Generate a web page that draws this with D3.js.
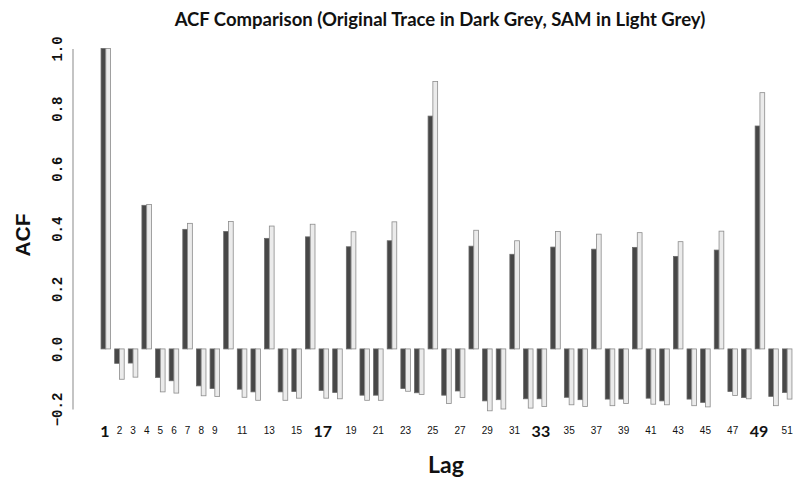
<!DOCTYPE html>
<html>
<head>
<meta charset="utf-8">
<script src="https://cdn.jsdelivr.net/npm/d3@7"></script>
<style>
  html, body { margin: 0; padding: 0; background: #fff; }
  svg { display: block; }
</style>
</head>
<body>
<svg id="chart" width="794" height="480"></svg>
<script>
// ---- data ----
const lags = d3.range(1, 52);
const originalACF = [
  1.0, -0.048, -0.047, 0.478, -0.095, -0.106, 0.398, -0.123, -0.132, 0.391,
  -0.134, -0.143, 0.368, -0.143, -0.142, 0.373, -0.138, -0.145, 0.340, -0.154,
  -0.154, 0.360, -0.132, -0.146, 0.775, -0.154, -0.140, 0.342, -0.173, -0.169,
  0.315, -0.166, -0.166, 0.339, -0.161, -0.169, 0.332, -0.167, -0.167, 0.338,
  -0.164, -0.173, 0.308, -0.167, -0.178, 0.329, -0.142, -0.162, 0.742, -0.158,
  -0.145
];
const samACF = [
  1.0, -0.101, -0.094, 0.481, -0.143, -0.147, 0.418, -0.156, -0.158, 0.424,
  -0.161, -0.171, 0.409, -0.171, -0.164, 0.415, -0.164, -0.166, 0.390, -0.171,
  -0.171, 0.423, -0.141, -0.152, 0.890, -0.182, -0.162, 0.395, -0.206, -0.200,
  0.360, -0.197, -0.192, 0.391, -0.186, -0.192, 0.382, -0.189, -0.182, 0.387,
  -0.184, -0.186, 0.357, -0.189, -0.193, 0.392, -0.155, -0.166, 0.853, -0.189,
  -0.167
];
const xTickLabels = [1,2,3,4,5,6,7,8,9,11,13,15,17,19,21,23,25,27,29,31,33,35,37,39,41,43,45,47,49,51];
const boldTicks = [1, 17, 33, 49];
const yTicks = [-0.2, 0.0, 0.2, 0.4, 0.6, 0.8, 1.0];
const seriesNames = ["Original", "SAM"];

// ---- layout ----
const svg = d3.select("#chart");

const x = d3.scaleBand()
  .domain(lags)
  .range([99, 794])
  .paddingInner(0.3)
  .paddingOuter(0.15);

const xSub = d3.scaleBand()
  .domain(seriesNames)
  .range([0, x.bandwidth()]);

const y = d3.scaleLinear().domain([-0.2, 1.0]).range([409, 48.5]);

// title
svg.append("text")
  .attr("x", 440).attr("y", 26)
  .attr("text-anchor", "middle")
  .style("font-family", "Lato, 'Open Sans', sans-serif")
  .style("font-weight", "bold")
  .style("font-size", "18.5px")
  .attr("fill", "#111")
  .text("ACF Comparison (Original Trace in Dark Grey, SAM in Light Grey)");

// y axis (line + rotated labels, no tick marks)
const yAxis = d3.axisLeft(y).tickValues(yTicks).tickSize(0).tickPadding(0)
  .tickFormat(d3.format(".1f"));
const gy = svg.append("g").attr("transform", "translate(72.5,0)").call(yAxis);
gy.select(".domain").attr("stroke", "#b0b0b0").attr("stroke-width", 1.5);
gy.selectAll(".tick text")
  .attr("x", 0).attr("dy", null)
  .attr("transform", "translate(-10.5,0) rotate(-90)")
  .attr("text-anchor", "middle")
  .attr("dominant-baseline", "auto")
  .style("font-family", "'Liberation Mono', 'DejaVu Sans Mono', monospace")
  .style("font-weight", "bold")
  .style("font-size", "14px")
  .attr("fill", "#111");

// y label
svg.append("text")
  .attr("transform", "translate(30,235) rotate(-90)")
  .attr("text-anchor", "middle")
  .style("font-family", "'Liberation Sans', Arial, sans-serif")
  .style("font-weight", "bold")
  .style("font-size", "21px")
  .attr("fill", "#111")
  .text("ACF");

// bars
const groups = svg.append("g").selectAll("g")
  .data(lags.map((lag, i) => ({ lag, vals: [originalACF[i], samACF[i]] })))
  .join("g")
  .attr("transform", d => `translate(${x(d.lag)},0)`);

groups.selectAll("rect")
  .data(d => d.vals.map((v, j) => ({ key: seriesNames[j], v })))
  .join("rect")
  .attr("x", d => xSub(d.key))
  .attr("width", xSub.bandwidth())
  .attr("y", d => Math.min(y(0), y(d.v)))
  .attr("height", d => Math.abs(y(d.v) - y(0)))
  .attr("fill", d => d.key === "Original" ? "#474747" : "#ebebeb")
  .attr("stroke", d => d.key === "Original" ? "#6a6a6a" : "#8c8c8c")
  .attr("stroke-width", 0.8);

// x tick labels
svg.append("g").selectAll("text")
  .data(xTickLabels)
  .join("text")
  .attr("x", d => x(d) + x.bandwidth() / 2 - (boldTicks.includes(d) ? 1 : 0))
  .attr("y", d => boldTicks.includes(d) ? 437 : 434)
  .attr("text-anchor", "middle")
  .style("font-family", d => boldTicks.includes(d) ? "Lato, 'Open Sans', sans-serif" : "'Liberation Sans', Arial, sans-serif")
  .style("font-weight", d => boldTicks.includes(d) ? "bold" : "normal")
  .style("font-size", d => boldTicks.includes(d) ? "16px" : "10px")
  .attr("fill", "#111")
  .text(d => d);

// x label
svg.append("text")
  .attr("x", 446).attr("y", 473)
  .attr("text-anchor", "middle")
  .style("font-family", "Lato, 'Open Sans', sans-serif")
  .style("font-weight", "bold")
  .style("font-size", "23px")
  .attr("fill", "#111")
  .text("Lag");
</script>
</body>
</html>
